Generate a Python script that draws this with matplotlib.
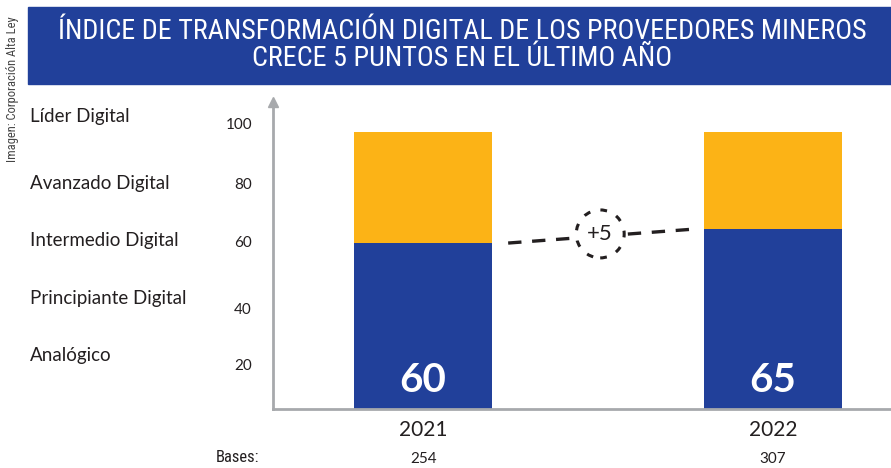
import matplotlib
matplotlib.use("Agg")
import matplotlib.pyplot as plt
from matplotlib.patches import Rectangle
import matplotlib.transforms as mtransforms
from matplotlib import font_manager as fm

# data
years = ["2021", "2022"]
bases = ["254", "307"]
index_values = [60, 65]
totals = [100, 100]
levels = ["Analógico", "Principiante Digital", "Intermedio Digital",
          "Avanzado Digital", "Líder Digital"]
level_values = [20, 40, 60, 80, 100]
yticks = [20, 40, 60, 80, 100]
change_label = "+5"
title = ("ÍNDICE DE TRANSFORMACIÓN DIGITAL DE LOS PROVEEDORES MINEROS\n"
         "CRECE 5 PUNTOS EN EL ÚLTIMO AÑO")
credit = "Imagen: Corporación Alta Ley"

BLUE = "#21409A"
YELLOW = "#FCB316"
DARK = "#231F20"
GRAY = "#A7A9AC"
FONT = ["Lato", "DejaVu Sans"]


def narrow_font():
    # look for a condensed family, else fall back to Lato
    for fam in ["Liberation Sans Narrow", "Roboto Condensed", "Open Sans Condensed"]:
        try:
            fm.findfont(fm.FontProperties(family=fam), fallback_to_default=False)
            return {"family": [fam, "DejaVu Sans"]}
        except Exception:
            pass
    path = fm.findfont(fm.FontProperties(family="DejaVu Sans", stretch="condensed"))
    if "Condensed" in path:
        return {"family": ["DejaVu Sans"], "fontstretch": "condensed"}
    return {"family": FONT}


NARROW = narrow_font()

W, H = 891, 468
fig = plt.figure(figsize=(W / 100, H / 100), dpi=100)

# title banner
fig.patches.append(Rectangle((28 / W, 1 - 84 / H), 1 - 28 / W, 77 / H,
                             transform=fig.transFigure, color=BLUE, zorder=0))
ttl = fig.text(462 / W, 1 - 45 / H, title, ha="center", va="center", color="white",
               fontsize=17, fontweight="normal", linespacing=0.98, **NARROW)
# size the title so the first line spans about 811 px like the reference
r = fig.canvas.get_renderer()
tw = ttl.get_window_extent(r).width
ttl.set_fontsize(17 * 811 / tw)

fig.text(13 / W, 1 - 89 / H, credit, rotation=90, ha="center", va="center",
         color="#444444", fontsize=9, **NARROW)

ax = fig.add_axes([273 / W, 59 / H, 618 / W, 307 / H])
ax.set_xlim(-0.429, 1.337)
ax.set_ylim(0, 111)

x = list(range(len(years)))
yellow_part = [t - v for t, v in zip(totals, index_values)]
ax.bar(x, index_values, width=0.394, color=BLUE, zorder=2)
ax.bar(x, yellow_part, bottom=index_values, width=0.394, color=YELLOW, zorder=2)

for xi, v in zip(x, index_values):
    ax.annotate(str(v), (xi, 0), xytext=(0, 12), textcoords="offset points",
                ha="center", va="baseline", color="white", fontsize=29,
                fontweight="bold", family=FONT, zorder=3)

# dashed change line between the two bar tops
x0, x1 = 0.243, 0.769
ax.plot([x0, x1], index_values, ls=(0, (4, 3.2)), lw=2.4, color=DARK, zorder=3)
ax.text((x0 + x1) / 2, sum(index_values) / 2 + 0.8, change_label, ha="center",
        va="center", fontsize=16, color=DARK, family=FONT, zorder=4,
        bbox=dict(boxstyle="circle,pad=0.5", fc="white", ec=DARK, lw=2.2,
                  ls=(0, (2.2, 3.4))))

# axes styling
for s in ["top", "right"]:
    ax.spines[s].set_visible(False)
for s in ["left", "bottom"]:
    ax.spines[s].set_color(GRAY)
    ax.spines[s].set_linewidth(2)
ax.plot(0, 1, marker="^", color=GRAY, markersize=7, transform=ax.transAxes,
        clip_on=False)
ax.set_xticks([])
ax.set_yticks([])

blend = mtransforms.blended_transform_factory(fig.transFigure, ax.transData)

# y tick numbers (nudged like the reference)
tick_nudge = [-4.5, -4.2, 0, 1, 2.7]
for t, n in zip(yticks, tick_nudge):
    ax.text(252 / W, t + n, str(t), ha="right", va="center", fontsize=11,
            color=DARK, family=FONT, transform=blend)

level_nudge = [-0.5, -0.2, 1, 1.7, 5.8]
for name, v, n in zip(levels, level_values, level_nudge):
    ax.text(30 / W, v + n, name, ha="left", va="center", fontsize=13.5,
            color=DARK, family=FONT, transform=blend)

# x labels and bases
for xi, yr, b in zip(x, years, bases):
    ax.annotate(yr, (xi, 0), xytext=(0, -21), textcoords="offset pixels",
                ha="center", va="center", fontsize=15, color=DARK, family=FONT)
    ax.annotate(b, (xi, 0), xytext=(0, -50), textcoords="offset pixels",
                ha="center", va="center", fontsize=11, color=DARK, family=FONT)
fig.text(259 / W, 1 - 458 / H, "Bases:", ha="right", va="center", fontsize=12,
         color=DARK, **NARROW)

fig.savefig("out.png", dpi=100)
